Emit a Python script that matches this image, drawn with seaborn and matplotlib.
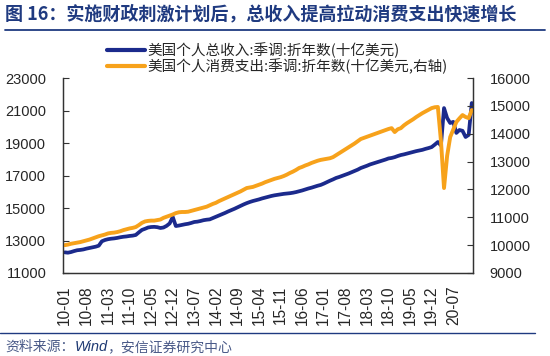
import numpy as np
import pandas as pd
import matplotlib
matplotlib.use("Agg")
import matplotlib.pyplot as plt
import seaborn as sns
from matplotlib.lines import Line2D

# ---- data (monthly, 2010-01 .. 2021-01) ----
months = pd.period_range("2010-01", "2021-01", freq="M").strftime("%y-%m").tolist()

income = [  # 美国个人总收入 (left axis)
    12270, 12250, 12290, 12350, 12400, 12420, 12450, 12500, 12540, 12580, 12620, 12680,
    12950, 13030, 13080, 13110, 13130, 13160, 13200, 13230, 13250, 13280, 13300, 13340,
    13500, 13650, 13720, 13800, 13830, 13840, 13820, 13770, 13800, 13900, 14050, 14450,
    13890, 13920, 13960, 14000, 14030, 14080, 14140, 14160, 14200, 14250, 14280, 14300,
    14380, 14460, 14540, 14620, 14700, 14790, 14870, 14950, 15040, 15130, 15220, 15300,
    15370, 15430, 15480, 15530, 15590, 15640, 15690, 15740, 15780, 15810, 15840, 15870,
    15890, 15910, 15940, 15980, 16030, 16080, 16140, 16200, 16250, 16310, 16370, 16420,
    16500, 16590, 16680, 16760, 16850, 16910, 16980, 17050, 17120, 17200, 17280, 17360,
    17460, 17530, 17600, 17680, 17740, 17800, 17860, 17920, 17980, 18050, 18080, 18130,
    18200, 18260, 18300, 18350, 18400, 18450, 18500, 18540, 18580, 18640, 18690, 18750,
    18900, 19060, 18850, 21150, 20540, 20230, 20300, 19620, 19800, 19750, 19370, 19500,
    21460,
]

spending = [  # 美国个人消费支出 (right axis)
    10000, 10020, 10050, 10070, 10090, 10110, 10140, 10170, 10200, 10240, 10280, 10320,
    10350, 10380, 10420, 10440, 10450, 10470, 10500, 10540, 10570, 10600, 10620, 10650,
    10720, 10800, 10850, 10870, 10880, 10880, 10900, 10920, 10980, 11020, 11060, 11100,
    11150, 11180, 11190, 11190, 11200, 11230, 11260, 11290, 11320, 11350, 11380, 11430,
    11480, 11520, 11580, 11630, 11680, 11730, 11780, 11830, 11880, 11930, 11990, 12050,
    12070, 12090, 12130, 12170, 12210, 12260, 12300, 12340, 12380, 12410, 12440, 12480,
    12530, 12590, 12640, 12700, 12770, 12810, 12860, 12900, 12950, 12990, 13030, 13060,
    13080, 13100, 13120, 13160, 13230, 13300, 13370, 13440, 13510, 13580, 13650, 13730,
    13810, 13850, 13890, 13930, 13970, 14010, 14050, 14090, 14130, 14170, 14200, 14060,
    14160, 14200, 14300, 14380, 14450, 14520, 14600, 14670, 14740, 14800, 14860, 14920,
    14950, 14960, 13750, 12050, 13200, 13880, 14150, 14420, 14550, 14670, 14600, 14560,
    14850,
]

tick_labels = ["10-01", "10-08", "11-03", "11-10", "12-05", "12-12", "13-07", "14-02",
               "14-09", "15-04", "15-11", "16-06", "17-01", "17-08", "18-03", "18-10",
               "19-05", "19-12", "20-07"]

label_income = "美国个人总收入:季调:折年数(十亿美元)"
label_spend = "美国个人消费支出:季调:折年数(十亿美元,右轴)"
title = "图 16：实施财政刺激计划后，总收入提高拉动消费支出快速增长"
source_a = "资料来源："
source_b = "Wind"
source_c = "，安信证券研究中心"

# ---- styling ----
sns.set_style("white")
plt.rcParams["font.family"] = ["Liberation Sans", "Noto Sans CJK SC", "DejaVu Sans"]

BLUE = "#1B2A8C"
ORANGE = "#F7A21B"
NAVY = "#1F3A80"

df = pd.DataFrame({"month": months, "income": income, "spending": spending})
df["pos"] = [months.index(m) for m in months]

fig = plt.figure(figsize=(5.5, 3.56), dpi=100)
ax = fig.add_axes([63 / 550, 1 - 273 / 356, (473 - 63) / 550, (273 - 78) / 356])
ax2 = ax.twinx()

sns.lineplot(data=df, x="pos", y="income", ax=ax, color=BLUE, linewidth=2.7, legend=False)
sns.lineplot(data=df, x="pos", y="spending", ax=ax2, color=ORANGE, linewidth=2.8, legend=False)

ax.set_xlim(-0.6, 132.4)
ax.set_ylim(11000, 23000)
ax2.set_ylim(9000, 16000)
ax.set_yticks(np.arange(11000, 23001, 2000))
ax2.set_yticks(np.arange(9000, 16001, 1000))
tick_pos = [months.index(t) for t in tick_labels]
ax.set_xticks(tick_pos)
ax.set_xticklabels(tick_labels, rotation=90, fontsize=11.2, family=["Liberation Sans"])
ax.set_xlabel("")
ax.set_ylabel("")
ax2.set_ylabel("")
for t in ax.get_yticklabels():
    t.set_fontsize(10.5)
for t in ax2.get_yticklabels():
    t.set_fontsize(10.5)

ax.tick_params(axis="both", direction="in", length=4, width=0.8, color="#333333")
ax.tick_params(axis="y", pad=12)
ax.tick_params(axis="x", pad=9)
ax2.tick_params(axis="y", direction="in", length=4, width=0.8, color="#333333", pad=12)
for a in (ax, ax2):
    a.spines["top"].set_visible(False)
    for s in ("left", "right", "bottom"):
        a.spines[s].set_color("#333333")
        a.spines[s].set_linewidth(0.9)
    a.grid(False)

# legend
handles = [Line2D([0], [0], color=BLUE, lw=3), Line2D([0], [0], color=ORANGE, lw=3)]
fig.legend(handles, [label_income, label_spend], loc="upper left",
           bbox_to_anchor=(100 / 550, 1 - 35 / 356), frameon=False,
           prop={"family": ["Noto Sans CJK SC"], "size": 10.5},
           handlelength=2.6, handletextpad=0.15, labelspacing=0.05, borderpad=0)

# title and rules
fig.text(5 / 550, 1 - 14 / 356, title, fontsize=13, fontweight="bold", color=NAVY,
         family=["Noto Sans CJK SC", "DejaVu Sans"], va="center", ha="left")
fig.add_artist(Line2D([5 / 550, 545 / 550], [1 - 29.5 / 356] * 2, color=NAVY, lw=1.3))
fig.add_artist(Line2D([0, 535 / 550], [1 - 333 / 356] * 2, color=NAVY, lw=1.0))

t1 = fig.text(5 / 550, 1 - 347 / 356, source_a, fontsize=10, color="#4A5A88",
              family=["Noto Sans CJK SC"], va="center", ha="left")
fig.canvas.draw()
r = fig.canvas.get_renderer()
bb = t1.get_window_extent(r)
t2 = fig.text(bb.x1 / fig.bbox.width, 1 - 347 / 356, source_b, fontsize=10.5, style="italic",
              color="#1F3A73", family=["Liberation Sans"], va="center", ha="left")
bb2 = t2.get_window_extent(r)
fig.text(bb2.x1 / fig.bbox.width, 1 - 347 / 356, source_c, fontsize=10, color="#4A5A88",
         family=["Noto Sans CJK SC"], va="center", ha="left")

fig.savefig("out.png", dpi=100)
